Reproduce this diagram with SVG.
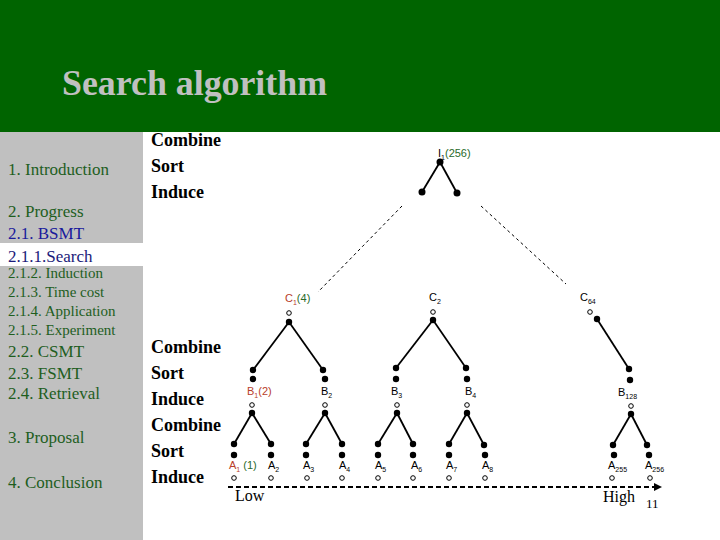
<svg xmlns="http://www.w3.org/2000/svg" width="720" height="540" viewBox="0 0 720 540">
<defs>
<style>
.side{font-family:"Liberation Serif","Times New Roman",serif;font-size:17px;fill:#1e5e1e}
.sub{font-size:15px}
.blue{fill:#1a1a9c}
.cmd{font-family:"Liberation Serif","Times New Roman",serif;font-size:18px;font-weight:bold;fill:#000}
.lbl{font-family:"Liberation Sans",Arial,sans-serif;font-size:11px;fill:#000}
.sb{font-size:7px}
.red{fill:#b8402a}
.grn{fill:#2a6a2a}
.edge{stroke:#000;stroke-width:1.8;fill:none}
.dash{stroke:#000;stroke-width:1;stroke-dasharray:3 3;fill:none}
.dot{fill:#000}
.ring{fill:#fff;stroke:#000;stroke-width:1}
.ax{font-family:"Liberation Serif","Times New Roman",serif;font-size:16px;fill:#000}
</style>
<marker id="arr" markerWidth="8" markerHeight="8" refX="6" refY="4" orient="auto" markerUnits="userSpaceOnUse">
<path d="M0,0 L8,4 L0,8 Z" fill="#000"/>
</marker>
</defs>
<rect x="0" y="0" width="720" height="540" fill="#fff"/>
<rect x="0" y="0" width="720" height="132" fill="#006400"/>
<text x="62" y="95" font-family="Liberation Serif,Times New Roman,serif" font-size="36" font-weight="bold" fill="#c0c0c0" textLength="265" lengthAdjust="spacingAndGlyphs">Search algorithm</text>
<rect x="0" y="132" width="143" height="111" fill="#c0c0c0"/>
<rect x="0" y="266" width="143" height="274" fill="#c0c0c0"/>

<g id="sidebar">
<text class="side" x="8" y="175">1. Introduction</text>
<text class="side" x="8" y="217">2. Progress</text>
<text class="side blue" x="8" y="239">2.1. BSMT</text>
<text class="side" x="8" y="262" style="fill:#1a1a7a">2.1.1.Search</text>
<text class="side sub" x="8" y="278">2.1.2. Induction</text>
<text class="side sub" x="8" y="297">2.1.3. Time cost</text>
<text class="side sub" x="8" y="316">2.1.4. Application</text>
<text class="side sub" x="8" y="335">2.1.5. Experiment</text>
<text class="side" x="8" y="357">2.2. CSMT</text>
<text class="side" x="8" y="379">2.3. FSMT</text>
<text class="side" x="8" y="399">2.4. Retrieval</text>
<text class="side" x="8" y="443">3. Proposal</text>
<text class="side" x="8" y="488">4. Conclusion</text>
</g>

<g id="steps">
<text class="cmd" x="151" y="146">Combine</text>
<text class="cmd" x="151" y="172">Sort</text>
<text class="cmd" x="151" y="198">Induce</text>
<text class="cmd" x="151" y="353">Combine</text>
<text class="cmd" x="151" y="379">Sort</text>
<text class="cmd" x="151" y="405">Induce</text>
<text class="cmd" x="151" y="431">Combine</text>
<text class="cmd" x="151" y="457">Sort</text>
<text class="cmd" x="151" y="483">Induce</text>
</g>

<g id="connectors">
<line class="edge" x1="440" y1="162" x2="422" y2="192"/>
<line class="edge" x1="440" y1="162" x2="457" y2="193"/>
<line class="dash" x1="402" y1="206" x2="318" y2="292"/>
<line class="dash" x1="481" y1="206" x2="566" y2="284"/>
<line class="edge" x1="289" y1="322" x2="253" y2="370"/>
<line class="edge" x1="289" y1="322" x2="323" y2="370"/>
<line class="edge" x1="433" y1="320" x2="396" y2="368"/>
<line class="edge" x1="433" y1="320" x2="466" y2="368"/>
<line class="edge" x1="597" y1="319" x2="629" y2="369"/>
<line class="edge" x1="252" y1="413" x2="234" y2="444"/>
<line class="edge" x1="252" y1="413" x2="271" y2="444"/>
<line class="edge" x1="325" y1="413" x2="306" y2="444"/>
<line class="edge" x1="325" y1="413" x2="342" y2="444"/>
<line class="edge" x1="397" y1="413" x2="378" y2="444"/>
<line class="edge" x1="397" y1="413" x2="413" y2="444"/>
<line class="edge" x1="467" y1="413" x2="449" y2="444"/>
<line class="edge" x1="467" y1="413" x2="484" y2="445"/>
<line class="edge" x1="631" y1="414" x2="613" y2="445"/>
<line class="edge" x1="631" y1="414" x2="647" y2="445"/>
<line x1="228" y1="487" x2="660" y2="487" stroke="#000" stroke-width="2" stroke-dasharray="5 3" marker-end="url(#arr)"/>
</g>

<g id="I1">
<text class="lbl" x="438" y="157">I<tspan class="sb" dy="3">1</tspan><tspan class="grn" dy="-3">(256)</tspan></text>
<circle class="dot" cx="440" cy="162" r="3.5"/>
<circle class="dot" cx="422" cy="192" r="3.5"/>
<circle class="dot" cx="457" cy="193" r="3.5"/>
</g>

<g id="C1">
<text class="lbl" x="285" y="302"><tspan class="red">C</tspan><tspan class="sb red" dy="3">1</tspan><tspan class="grn" dy="-3">(4)</tspan></text>
<circle class="ring" cx="289" cy="313" r="2.3"/>
<circle class="dot" cx="289" cy="322" r="3.2"/>
</g>
<g id="C2">
<text class="lbl" x="429" y="301">C<tspan class="sb" dy="3">2</tspan></text>
<circle class="ring" cx="433" cy="312" r="2.3"/>
<circle class="dot" cx="433" cy="320" r="3.2"/>
</g>
<g id="C64">
<text class="lbl" x="580" y="301">C<tspan class="sb" dy="3">64</tspan></text>
<circle class="ring" cx="590" cy="312" r="2.3"/>
<circle class="dot" cx="597" cy="319" r="3.2"/>
</g>

<g id="B1">
<circle class="dot" cx="253" cy="370" r="3.2"/>
<circle class="dot" cx="253" cy="379" r="3.2"/>
<text class="lbl" x="247" y="395"><tspan class="red">B</tspan><tspan class="sb red" dy="3">1</tspan><tspan class="red" dy="-3">(2)</tspan></text>
<circle class="ring" cx="252" cy="405" r="2.3"/>
<circle class="dot" cx="252" cy="413" r="3.2"/>
</g>
<g id="B2">
<circle class="dot" cx="323" cy="370" r="3.2"/>
<circle class="dot" cx="325" cy="379" r="3.2"/>
<text class="lbl" x="321" y="395">B<tspan class="sb" dy="3">2</tspan></text>
<circle class="ring" cx="325" cy="405" r="2.3"/>
<circle class="dot" cx="325" cy="413" r="3.2"/>
</g>
<g id="B3">
<circle class="dot" cx="396" cy="368" r="3.2"/>
<circle class="dot" cx="396" cy="379" r="3.2"/>
<text class="lbl" x="391" y="395">B<tspan class="sb" dy="3">3</tspan></text>
<circle class="ring" cx="397" cy="405" r="2.3"/>
<circle class="dot" cx="397" cy="413" r="3.2"/>
</g>
<g id="B4">
<circle class="dot" cx="466" cy="368" r="3.2"/>
<circle class="dot" cx="467" cy="379" r="3.2"/>
<text class="lbl" x="465" y="395">B<tspan class="sb" dy="3">4</tspan></text>
<circle class="ring" cx="467" cy="405" r="2.3"/>
<circle class="dot" cx="467" cy="413" r="3.2"/>
</g>
<g id="B128">
<circle class="dot" cx="629" cy="369" r="3.2"/>
<circle class="dot" cx="630" cy="380" r="3.2"/>
<text class="lbl" x="618" y="396">B<tspan class="sb" dy="3">128</tspan></text>
<circle class="ring" cx="631" cy="406" r="2.3"/>
<circle class="dot" cx="631" cy="414" r="3.2"/>
</g>

<g id="A1">
<circle class="dot" cx="234" cy="444" r="3.2"/>
<circle class="dot" cx="234" cy="455" r="3.2"/>
<text class="lbl" x="229" y="469"><tspan class="red">A</tspan><tspan class="sb red" dy="3">1</tspan><tspan class="grn" dy="-3"> (1)</tspan></text>
<circle class="ring" cx="234" cy="478" r="2.3"/>
</g>
<g id="A2">
<circle class="dot" cx="271" cy="444" r="3.2"/>
<circle class="dot" cx="271" cy="455" r="3.2"/>
<text class="lbl" x="268" y="469">A<tspan class="sb" dy="3">2</tspan></text>
<circle class="ring" cx="271" cy="478" r="2.3"/>
</g>
<g id="A3">
<circle class="dot" cx="306" cy="444" r="3.2"/>
<circle class="dot" cx="306" cy="455" r="3.2"/>
<text class="lbl" x="303" y="469">A<tspan class="sb" dy="3">3</tspan></text>
<circle class="ring" cx="307" cy="478" r="2.3"/>
</g>
<g id="A4">
<circle class="dot" cx="342" cy="444" r="3.2"/>
<circle class="dot" cx="342" cy="455" r="3.2"/>
<text class="lbl" x="339" y="469">A<tspan class="sb" dy="3">4</tspan></text>
<circle class="ring" cx="342" cy="478" r="2.3"/>
</g>
<g id="A5">
<circle class="dot" cx="378" cy="444" r="3.2"/>
<circle class="dot" cx="378" cy="455" r="3.2"/>
<text class="lbl" x="375" y="469">A<tspan class="sb" dy="3">5</tspan></text>
<circle class="ring" cx="378" cy="478" r="2.3"/>
</g>
<g id="A6">
<circle class="dot" cx="413" cy="444" r="3.2"/>
<circle class="dot" cx="413" cy="455" r="3.2"/>
<text class="lbl" x="411" y="469">A<tspan class="sb" dy="3">6</tspan></text>
<circle class="ring" cx="413" cy="478" r="2.3"/>
</g>
<g id="A7">
<circle class="dot" cx="449" cy="444" r="3.2"/>
<circle class="dot" cx="449" cy="455" r="3.2"/>
<text class="lbl" x="446" y="469">A<tspan class="sb" dy="3">7</tspan></text>
<circle class="ring" cx="449" cy="478" r="2.3"/>
</g>
<g id="A8">
<circle class="dot" cx="484" cy="445" r="3.2"/>
<circle class="dot" cx="485" cy="455" r="3.2"/>
<text class="lbl" x="482" y="469">A<tspan class="sb" dy="3">8</tspan></text>
<circle class="ring" cx="485" cy="478" r="2.3"/>
</g>
<g id="A255">
<circle class="dot" cx="613" cy="445" r="3.2"/>
<circle class="dot" cx="614" cy="455" r="3.2"/>
<text class="lbl" x="608" y="469">A<tspan class="sb" dy="3">255</tspan></text>
<circle class="ring" cx="612" cy="478" r="2.3"/>
</g>
<g id="A256">
<circle class="dot" cx="647" cy="445" r="3.2"/>
<circle class="dot" cx="649" cy="455" r="3.2"/>
<text class="lbl" x="645" y="469">A<tspan class="sb" dy="3">256</tspan></text>
<circle class="ring" cx="650" cy="478" r="2.3"/>
</g>

<g id="axis-labels">
<text class="ax" x="235" y="501">Low</text>
<text class="ax" x="603" y="502">High</text>
<text class="ax" x="646" y="508" style="font-size:13px">11</text>
</g>
</svg>
